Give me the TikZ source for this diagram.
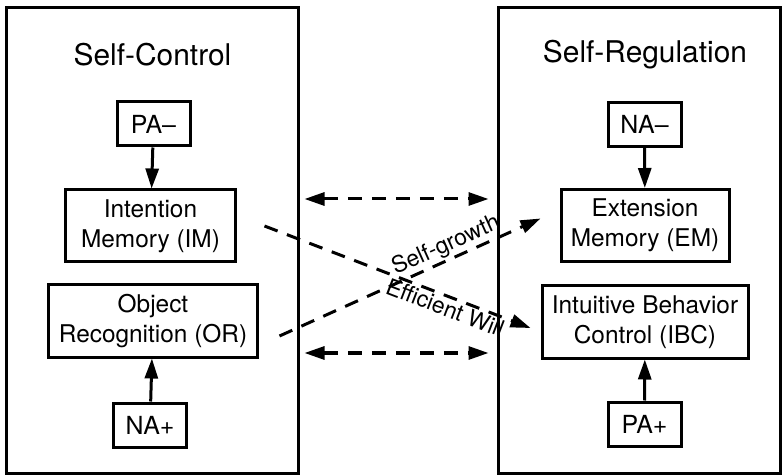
\documentclass[tikz,border=0pt]{standalone}
\usepackage{fontspec}
\setmainfont{TeX Gyre Heros}
\usetikzlibrary{arrows.meta}
\begin{document}
\begin{tikzpicture}[x=1bp,y=-1bp,
  bigbox/.style={draw,line width=3bp,minimum height=465bp,inner sep=0pt},
  titletext/.style={font=\fontsize{30}{35}\selectfont},
  smallbox/.style={draw,line width=3bp,minimum width=73bp,minimum height=44bp,inner sep=0pt,font=\fontsize{25}{30}\selectfont},
  membox/.style={draw,line width=3bp,minimum height=72bp,inner sep=0pt,align=center,font=\fontsize{24.5}{30}\selectfont},
  solidarrow/.style={line width=3bp,-{Triangle[length=20bp,width=13bp]}},
  dasharrow/.style={line width=3bp,dash pattern=on 14bp off 10bp,-{Triangle[length=20bp,width=13bp]}},
  dashboth/.style={line width=3bp,dash pattern=on 14bp off 10bp,{Triangle[length=20bp,width=13bp]}-{Triangle[length=20bp,width=13bp]}},
  lbl/.style={font=\fontsize{23}{27}\selectfont,sloped,inner sep=1.5bp}
]
\useasboundingbox (0,0) rectangle (782,476);
% big boxes
\node[bigbox,minimum width=291bp] (SC) at (152.5,240.5) {};
\node[bigbox,minimum width=282bp] (SR) at (639,240.5) {};
\node[titletext] (SCt) at (152.5,55) {Self-Control};
\node[titletext] (SRt) at (645,55) {Self-Regulation};
% left column
\node[smallbox] (PAm) at (153.5,124) {PA--};
\node[membox,minimum width=169bp] (IM) at (150.5,226) {Intention\\Memory (IM)};
\node[membox,minimum width=208bp] (OR) at (153,321) {Object\\Recognition (OR)};
\node[smallbox] (NAp) at (150,425) {NA+};
% right column
\node[smallbox] (NAm) at (644.5,124.5) {NA--};
\node[membox,minimum width=168bp] (EM) at (645,225.5) {Extension\\Memory (EM)};
\node[membox,minimum width=206bp] (IBC) at (645,322) {Intuitive Behavior\\Control (IBC)};
\node[smallbox] (PAp) at (644.5,424) {PA+};
% solid arrows
\draw[solidarrow] (PAm) -- (IM);
\draw[solidarrow] (NAp) -- (OR);
\draw[solidarrow] (NAm) -- (EM);
\draw[solidarrow] (PAp) -- (IBC);
% horizontal dashed double arrows
\coordinate (t1) at ([xshift=5bp]SC.east |- 0,199);
\coordinate (t2) at ([xshift=-8bp]SR.west |- 0,199);
\coordinate (b1) at ([xshift=5bp]SC.east |- 0,353);
\coordinate (b2) at ([xshift=-8bp]SR.west |- 0,353);
\draw[dashboth] (t1) -- (t2);
\draw[dashboth] (b1) -- (b2);
% crossing dashed arrows
\coordinate (ew1) at ([xshift=28bp]IM.east);
\coordinate (ew2) at ([xshift=-10bp,yshift=-6bp]IBC.west);
\coordinate (sg1) at ([xshift=21bp,yshift=-15bp]OR.east);
\coordinate (sg2) at ([xshift=-19bp,yshift=7bp]EM.west);
\draw[dasharrow] (ew1) -- node[lbl,pos=0.695,below] {Efficient Will} (ew2);
\draw[dasharrow] (sg1) -- node[lbl,pos=0.66,above] {Self-growth} (sg2);
\end{tikzpicture}
\end{document}
